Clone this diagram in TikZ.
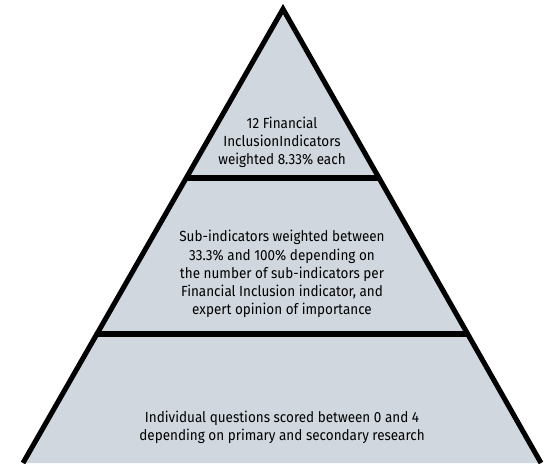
\documentclass[tikz,border=0pt]{standalone}
\usepackage{fontspec}
\setmainfont{Fira Sans}[FakeStretch=0.92]
\usepackage{tikz}
\usetikzlibrary{calc}
\usepackage{xcolor}
\definecolor{tiergray}{RGB}{208,215,222}

\begin{document}
\begin{tikzpicture}[x=0.75pt, y=-0.75pt,
    tiertext/.style={font=\fontsize{11}{13.6}\selectfont, align=center, inner sep=0pt},
    tierline/.style={line width=3.8pt, line join=miter}]
  \useasboundingbox (0,0) rectangle (552,463);

  % Pyramid corners
  \coordinate (apex) at (283,9);
  \coordinate (bl) at (23,463);
  \coordinate (br) at (541,463);

  % Tier borders
  \coordinate (l1) at ($(apex)!0.3722!(bl)$);
  \coordinate (r1) at ($(apex)!0.3722!(br)$);
  \coordinate (l2) at ($(apex)!0.7159!(bl)$);
  \coordinate (r2) at ($(apex)!0.7159!(br)$);

  \fill[tiergray] (apex) -- (bl) -- (br) -- cycle;
  \draw[tierline] (l1) -- (r1);
  \draw[tierline] (l2) -- (r2);
  \draw[tierline] (bl) -- (apex) -- (br);

  % Tier labels
  \node[tiertext] (top) at (282,142)
    {12 Financial\\InclusionIndicators\\weighted 8.33\% each};
  \node[tiertext] (mid) at (282,274)
    {Sub-indicators weighted between\\33.3\% and 100\% depending on\\the number of sub-indicators per\\Financial Inclusion indicator, and\\expert opinion of importance};
  \node[tiertext] (base) at (282,427)
    {Individual questions scored between 0 and 4\\depending on primary and secondary research};
\end{tikzpicture}
\end{document}
